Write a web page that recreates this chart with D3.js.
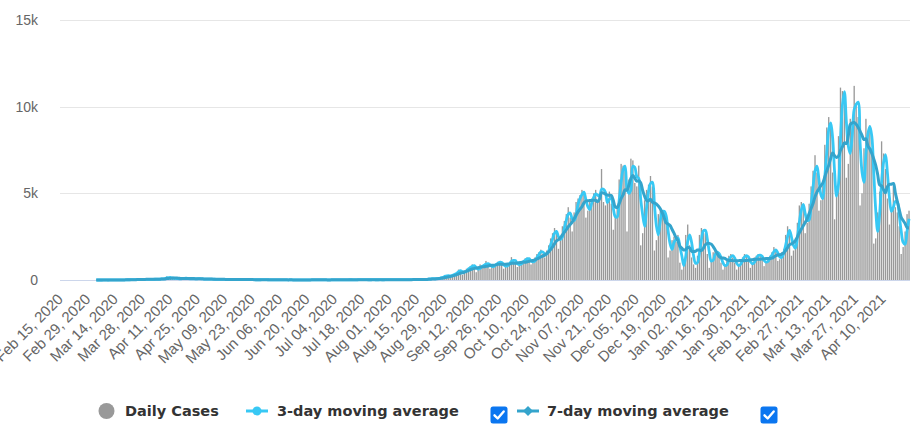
<!DOCTYPE html>
<html><head><meta charset="utf-8">
<script src="https://cdn.jsdelivr.net/npm/d3@7"></script>
<style>
html,body{margin:0;padding:0;background:#fff;}
svg{display:block;font-family:"DejaVu Sans",Verdana,sans-serif;}
</style></head>
<body><svg id="chart" width="922" height="435"></svg>
<script>
// ---------- DATA ----------
const firstCategory = "2020-02-15";
const lastCategory  = "2021-04-23";
const caseStart     = "2020-03-04";

// daily reported cases, one row per week (Mon..Sun), first row starts Wed Mar 4 2020
const dailyCases = [
  2, 0, 1, 3, 1,
  2, 1, 3, 3, 6, 2, 7,
  7, 11, 8, 15, 18, 12, 18,
  20, 36, 35, 36, 39, 43, 35,
  45, 45, 33, 38, 55, 53, 55,
  73, 78, 85, 210, 100, 120, 93,
  85, 79, 60, 65, 107, 116, 77,
  59, 82, 54, 61, 78, 93, 66,
  46, 51, 50, 39, 51, 56, 36,
  27, 33, 43, 30, 41, 31, 25,
  22, 29, 47, 34, 33, 21, 18,
  13, 35, 26, 24, 21, 16, 15,
  10, 17, 20, 22, 21, 12, 9,
  7, 15, 10, 7, 8, 11, 6,
  3, 8, 7, 11, 5, 4, 3,
  2, 5, 8, 6, 4, 9, 12,
  8, 11, 14, 6, 4, 3, 10,
  5, 8, 9, 13, 7, 12, 5,
  10, 12, 14, 7, 11, 22, 14,
  3, 15, 19, 17, 26, 21, 20,
  9, 12, 22, 16, 13, 12, 22,
  14, 10, 20, 25, 19, 28, 18,
  9, 26, 15, 16, 20, 33, 16,
  11, 23, 32, 27, 26, 31, 47,
  21, 19, 48, 55, 82, 79, 80,
  60, 95, 132, 145, 180, 292, 240,
  200, 280, 320, 380, 460, 600, 560,
  300, 550, 650, 700, 800, 900, 800,
  450, 650, 900, 800, 850, 1100, 900,
  650, 800, 900, 920, 1050, 1100, 900,
  650, 850, 950, 980, 1320, 1100, 950,
  750, 950, 1050, 1100, 1250, 1300, 1150,
  900, 1100, 1300, 1500, 1600, 1750, 1500,
  1300, 1700, 2000, 2400, 2700, 3000, 2700,
  1800, 2500, 3100, 3400, 3800, 4200, 3600,
  2800, 3900, 4500, 4700, 4900, 5200, 5100,
  3600, 4000, 4600, 4700, 5000, 5200, 4500,
  4800, 6400, 4500, 4300, 4600, 5100, 4400,
  2900, 3700, 4300, 5800, 6700, 6600, 6400,
  2800, 5800, 7000, 6900, 5600, 5400, 6600,
  2000, 2700, 4600, 5200, 5500, 6000, 5400,
  1700, 2300, 3800, 4100, 3900, 3900, 3300,
  1300, 1700, 2300, 2500, 2200, 2600, 1000,
  600, 900, 2600, 3200, 2000, 1300, 900,
  700, 1400, 2600, 3000, 2900, 2700, 1500,
  700, 1100, 1600, 1700, 1500, 1400, 1000,
  600, 900, 1100, 1400, 1500, 1300, 1000,
  600, 900, 1200, 1300, 1500, 1400, 1100,
  700, 1000, 1300, 1400, 1500, 1400, 1200,
  800, 1100, 1300, 1400, 1600, 1900, 1700,
  1100, 1200, 1600, 1800, 2600, 3100, 2900,
  1400, 1700, 2400, 3300, 4300, 4500, 4300,
  2700, 3300, 4400, 5400, 6300, 7200, 6200,
  4000, 4600, 5500, 7800, 8800, 9400, 9000,
  6200, 3500, 4800, 8300, 11100, 10900, 10600,
  5900, 6700, 9300, 9000, 11200, 10200, 9400,
  4300, 5000, 7600, 9300, 8400, 8900, 7600,
  2100, 2400, 3900, 5100, 8000, 7300, 6400,
  4700, 3200, 4000, 5400, 4200, 3900, 3100,
  1500, 1900, 2800, 3800, 4000
];

const yTickValues = [0, 5000, 10000, 15000];
const yTickLabels = ["0", "5k", "10k", "15k"];
const xTickLabels = [
  "Feb 15, 2020","Feb 29, 2020","Mar 14, 2020","Mar 28, 2020","Apr 11, 2020",
  "Apr 25, 2020","May 09, 2020","May 23, 2020","Jun 06, 2020","Jun 20, 2020",
  "Jul 04, 2020","Jul 18, 2020","Aug 01, 2020","Aug 15, 2020","Aug 29, 2020",
  "Sep 12, 2020","Sep 26, 2020","Oct 10, 2020","Oct 24, 2020","Nov 07, 2020",
  "Nov 21, 2020","Dec 05, 2020","Dec 19, 2020","Jan 02, 2021","Jan 16, 2021",
  "Jan 30, 2021","Feb 13, 2021","Feb 27, 2021","Mar 13, 2021","Mar 27, 2021",
  "Apr 10, 2021"
];
const seriesNames = ["Daily Cases", "3-day moving average", "7-day moving average"];
const movingWindows = [3, 7];

// ---------- STYLE ----------
const colBars = "#999999", colMA3 = "#38c8f4", colMA7 = "#34a4cc";
const plot = {left: 60, right: 910, top: 20, bottom: 280};

// ---------- BUILD ----------
const parse = d3.utcParse("%Y-%m-%d");
const fmt = d3.utcFormat("%b %d, %Y");
const cats = d3.utcDay.range(parse(firstCategory), d3.utcDay.offset(parse(lastCategory), 1)).map(fmt);
const startIdx = cats.indexOf(fmt(parse(caseStart)));

const records = dailyCases.map((v, k) => {
  const win = w => d3.mean(dailyCases.slice(Math.max(0, k - w + 1), k + 1));
  return {cat: cats[startIdx + k], v, ma3: win(movingWindows[0]), ma7: win(movingWindows[1])};
});

const svg = d3.select("#chart");
const x = d3.scaleBand().domain(cats).range([plot.left, plot.right]).paddingInner(0.32).paddingOuter(0.16);
const cx = d => x(d) + x.bandwidth() / 2;
const y = d3.scaleLinear().domain([0, 15000]).range([plot.bottom, plot.top]);

// grid
const grid = svg.append("g").attr("transform", `translate(${plot.left},0)`)
  .call(d3.axisLeft(y).tickValues(yTickValues).tickSize(-(plot.right - plot.left)).tickFormat(""));
grid.select(".domain").remove();
grid.selectAll("line").attr("stroke", "#e6e6e6").attr("stroke-width", 1).attr("shape-rendering", "crispEdges");

// y labels
const ya = svg.append("g").attr("transform", `translate(${plot.left},0)`)
  .call(d3.axisLeft(y).tickValues(yTickValues).tickSize(0).tickPadding(22).tickFormat((d, i) => yTickLabels[i]));
ya.select(".domain").remove();
ya.selectAll("text").attr("fill", "#666").style("font-size", "14px").attr("font-family", null);

// bars
svg.append("g").selectAll("rect").data(records).join("rect")
  .attr("x", d => cx(d.cat) - x.bandwidth() / 2)
  .attr("width", x.bandwidth())
  .attr("y", d => y(d.v))
  .attr("height", d => y(0) - y(d.v))
  .attr("fill", colBars);

// x axis
const xa = svg.append("g").attr("transform", `translate(0,${plot.bottom})`)
  .call(d3.axisBottom(x).tickValues(xTickLabels).tickSize(0));
xa.select(".domain").attr("stroke", "#ccd6eb").attr("d", `M${plot.left},0.5H${plot.right}`);
xa.selectAll("text")
  .attr("fill", "#666").style("font-size", "15px").attr("font-family", null)
  .attr("x", 0).attr("y", 0).attr("dy", null)
  .attr("text-anchor", "end")
  .attr("transform", "translate(3,20) rotate(-45)");

// lines
const line = key => d3.line().x(d => cx(d.cat)).y(d => y(d[key])).curve(d3.curveCatmullRom.alpha(0.5));
svg.append("path").datum(records).attr("d", line("ma3"))
  .attr("fill", "none").attr("stroke", colMA3).attr("stroke-width", 2.8).attr("stroke-linejoin", "round");
svg.append("path").datum(records).attr("d", line("ma7"))
  .attr("fill", "none").attr("stroke", colMA7).attr("stroke-width", 3).attr("stroke-linejoin", "round");

// legend
const lg = svg.append("g").style("font-size", "14.5px").style("font-weight", "bold").attr("fill", "#333");
const ly = 411, lty = 416;
lg.append("circle").attr("cx", 106.5).attr("cy", ly).attr("r", 8).attr("fill", colBars);
lg.append("text").attr("x", 125).attr("y", lty).text(seriesNames[0]);

lg.append("line").attr("x1", 246).attr("x2", 268).attr("y1", ly).attr("y2", ly).attr("stroke", colMA3).attr("stroke-width", 3);
lg.append("circle").attr("cx", 257).attr("cy", ly).attr("r", 4.5).attr("fill", colMA3);
lg.append("text").attr("x", 277).attr("y", lty).text(seriesNames[1]);

lg.append("line").attr("x1", 517).attr("x2", 539).attr("y1", ly).attr("y2", ly).attr("stroke", colMA7).attr("stroke-width", 3);
lg.append("path").attr("d", `M528,${ly-5}L533,${ly}L528,${ly+5}L523,${ly}Z`).attr("fill", colMA7);
lg.append("text").attr("x", 547).attr("y", lty).text(seriesNames[2]);

function checkbox(x0, y0) {
  const g = svg.append("g").attr("transform", `translate(${x0},${y0})`);
  g.append("rect").attr("width", 17).attr("height", 17).attr("rx", 2.5).attr("fill", "#0b76f0");
  g.append("path").attr("d", "M4,8.8L7.2,12L13.2,5").attr("fill", "none")
    .attr("stroke", "#fff").attr("stroke-width", 2.4).attr("stroke-linecap", "round").attr("stroke-linejoin", "round");
}
checkbox(490.5, 406.5);
checkbox(760.5, 406.5);
</script>
</body></html>
